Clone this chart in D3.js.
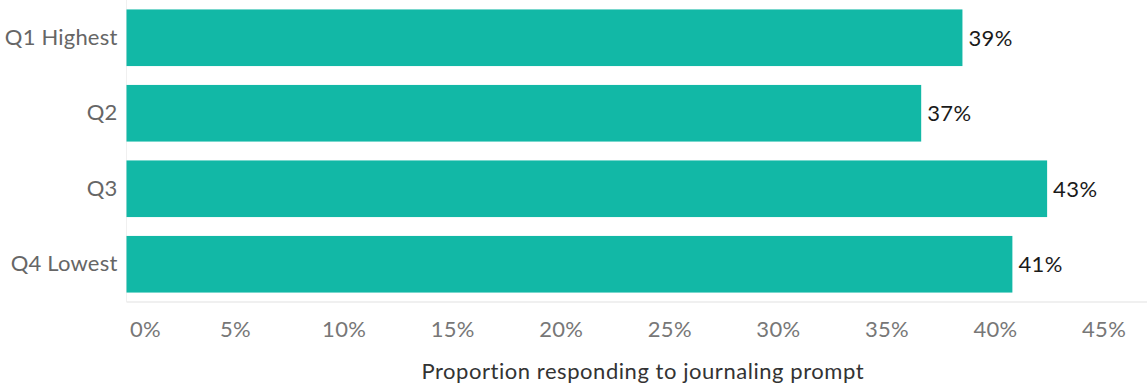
<!DOCTYPE html>
<html>
<head>
<meta charset="utf-8">
<script src="https://cdn.jsdelivr.net/npm/d3@7"></script>
<style>
  html, body { margin: 0; padding: 0; background: #fff; }
  svg { display: block; font-family: Lato, "Open Sans", sans-serif; }
</style>
</head>
<body>
<svg id="chart" width="1147" height="385"></svg>
<script>
// ---- data ----
const categories = ["Q1 Highest", "Q2", "Q3", "Q4 Lowest"];
const values = [0.385, 0.366, 0.424, 0.408];
const valueLabels = ["39%", "37%", "43%", "41%"];
const xTicks = [0, 0.05, 0.10, 0.15, 0.20, 0.25, 0.30, 0.35, 0.40, 0.45];
const xTickLabels = ["0%", "5%", "10%", "15%", "20%", "25%", "30%", "35%", "40%", "45%"];
const xTitle = "Proportion responding to journaling prompt";

// ---- layout ----
const plot = { left: 126.5, right: 1147, top: 0, bottom: 302 };
const barColor = "#12b8a6";
const FONT = "Lato, 'Open Sans', sans-serif";

const svg = d3.select("#chart");

const x = d3.scaleLinear().domain([0, 0.47]).range([plot.left, plot.right]);
const y = d3.scaleBand().domain(categories).range([plot.top, plot.bottom])
  .paddingInner(0.25).paddingOuter(0.125);

// zero gridline (vertical) and baseline (horizontal)
svg.append("line")
  .attr("x1", x(0)).attr("x2", x(0))
  .attr("y1", plot.top).attr("y2", plot.bottom)
  .attr("stroke", "#f0f0f0").attr("stroke-width", 1);
svg.append("line")
  .attr("x1", x(0)).attr("x2", plot.right)
  .attr("y1", plot.bottom).attr("y2", plot.bottom)
  .attr("stroke", "#ebebeb").attr("stroke-width", 1.5);

// bars
svg.append("g").selectAll("rect")
  .data(categories)
  .join("rect")
  .attr("x", x(0))
  .attr("y", d => y(d))
  .attr("width", (d, i) => x(values[i]) - x(0))
  .attr("height", y.bandwidth())
  .attr("fill", barColor);

// value labels
svg.append("g").selectAll("text")
  .data(categories)
  .join("text")
  .attr("x", (d, i) => x(values[i]) + 6)
  .attr("y", d => y(d) + y.bandwidth() / 2)
  .attr("dy", "0.36em")
  .attr("font-size", 22)
  .attr("letter-spacing", 0.4)
  .attr("fill", "#1a1a1a")
  .text((d, i) => valueLabels[i]);

// y axis
const yAxis = d3.axisLeft(y).tickSize(0).tickPadding(9);
const gy = svg.append("g").attr("transform", `translate(${plot.left},0)`).call(yAxis);
gy.select(".domain").remove();
gy.selectAll("text").attr("font-size", 22).attr("letter-spacing", 0.2)
  .attr("fill", "#666").attr("font-family", FONT);

// x axis
const xAxis = d3.axisBottom(x).tickValues(xTicks).tickSize(0).tickPadding(19)
  .tickFormat((d, i) => xTickLabels[i]);
const gx = svg.append("g").attr("transform", `translate(0,${plot.bottom})`).call(xAxis);
gx.select(".domain").remove();
gx.selectAll("text").attr("font-size", 22).attr("letter-spacing", 0.3)
  .attr("fill", "#777").attr("font-family", FONT);
gx.selectAll(".tick").filter((d, i) => i === 0).select("text")
  .attr("text-anchor", "start").attr("dx", 3);

// x title
svg.append("text")
  .attr("x", (plot.left + plot.right) / 2 + 6)
  .attr("y", 379)
  .attr("text-anchor", "middle")
  .attr("font-size", 22)
  .attr("letter-spacing", 0.55)
  .attr("fill", "#333")
  .text(xTitle);
</script>
</body>
</html>
